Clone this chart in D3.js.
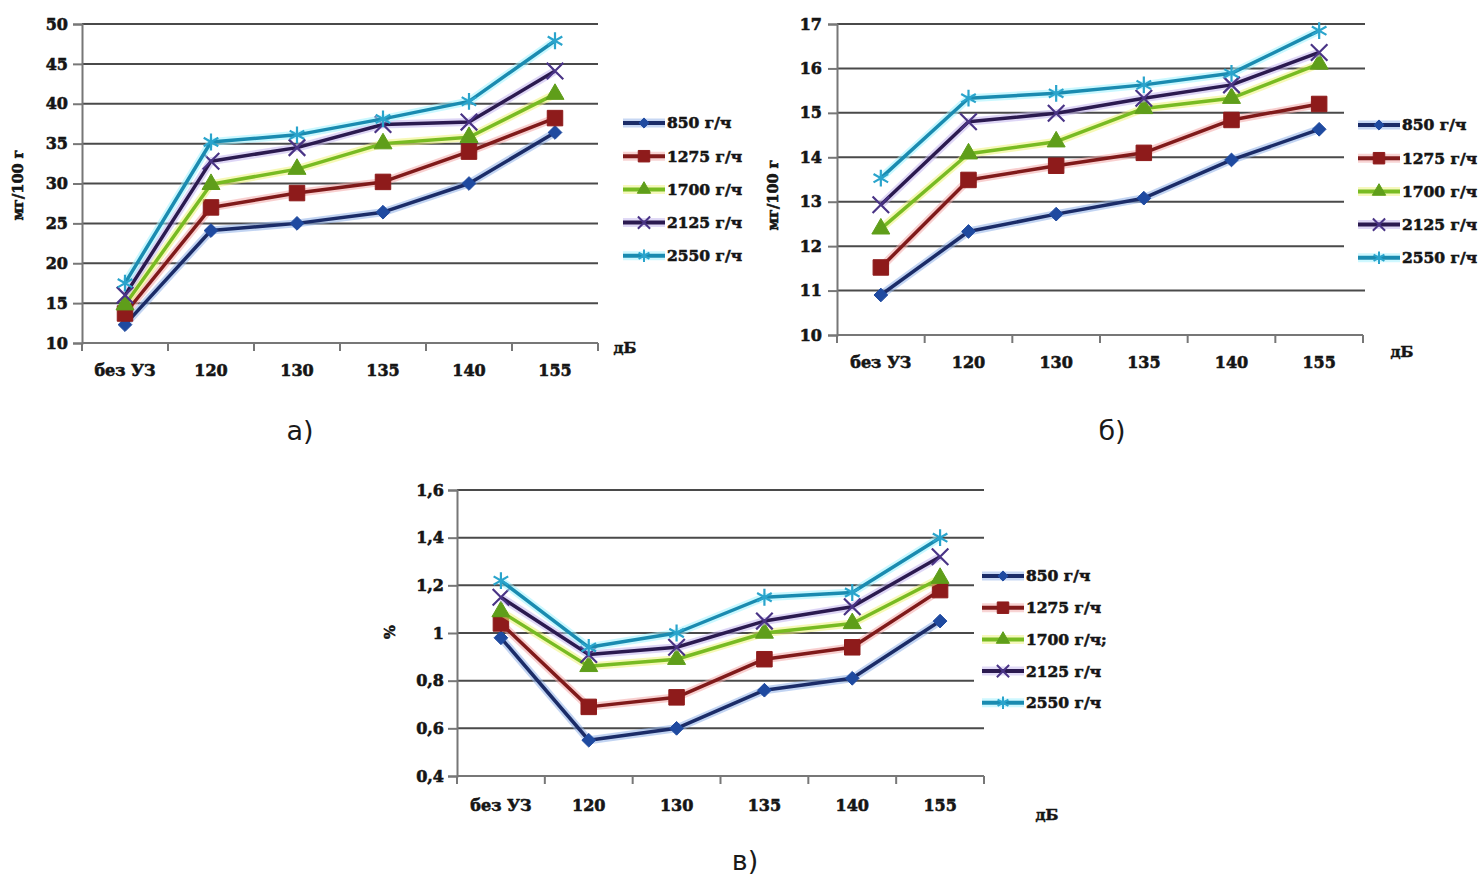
<!DOCTYPE html>
<html>
<head>
<meta charset="utf-8">
<script src="https://cdn.jsdelivr.net/npm/d3@7"></script>
<style>
  body { margin: 0; background: #fff; }
  svg { display: block; }
</style>
</head>
<body>
<svg id="chart"></svg>
<script>
// categories (x axis), shared by all three panels
var categories = ["без УЗ", "120", "130", "135", "140", "155"];
var seriesNames = ["850 г/ч", "1275 г/ч", "1700 г/ч", "2125 г/ч", "2550 г/ч"];
var seriesNamesC = ["850 г/ч", "1275 г/ч", "1700 г/ч;", "2125 г/ч", "2550 г/ч"];

// panel а) mg/100 g
var a850  = [12.3, 24.1, 25.0, 26.4, 30.0, 36.4];
var a1275 = [13.7, 27.0, 28.8, 30.2, 34.0, 38.2];
var a1700 = [14.8, 29.9, 31.8, 35.0, 35.8, 41.2];
var a2125 = [16.0, 32.8, 34.5, 37.4, 37.7, 44.1];
var a2550 = [17.5, 35.2, 36.1, 38.1, 40.3, 47.9];
var yTicksA = [10, 15, 20, 25, 30, 35, 40, 45, 50];

// panel б) mg/100 g
var b850  = [10.9, 12.33, 12.72, 13.08, 13.94, 14.63];
var b1275 = [11.52, 13.49, 13.81, 14.1, 14.84, 15.2];
var b1700 = [12.39, 14.08, 14.35, 15.1, 15.33, 16.1];
var b2125 = [12.93, 14.8, 14.99, 15.33, 15.63, 16.36];
var b2550 = [13.53, 15.33, 15.44, 15.63, 15.89, 16.85];
var yTicksB = [10, 11, 12, 13, 14, 15, 16, 17];

// panel в) %
var c850  = [0.98, 0.55, 0.6, 0.76, 0.81, 1.05];
var c1275 = [1.04, 0.69, 0.73, 0.89, 0.94, 1.18];
var c1700 = [1.09, 0.86, 0.89, 1.0, 1.04, 1.23];
var c2125 = [1.15, 0.91, 0.94, 1.05, 1.11, 1.32];
var c2550 = [1.22, 0.94, 1.0, 1.15, 1.17, 1.4];
var yTicksC = [0.4, 0.6, 0.8, 1.0, 1.2, 1.4, 1.6];
var yLabelsC = ["0,4", "0,6", "0,8", "1", "1,2", "1,4", "1,6"];

// series styles: line colour, halo colour, marker
var styles = [
  { line: "#1b2c68", halo: "#8fb0e8", fill: "#1f4aa0", sym: d3.symbolDiamond2 || d3.symbolDiamond, size: 120, stroke: false },
  { line: "#801a1a", halo: "#f2a8a8", fill: "#8e1b1b", sym: d3.symbolSquare, size: 240, stroke: false },
  { line: "#78bb22", halo: "#eef27a", fill: "#5f9e1a", sym: d3.symbolTriangle, size: 140, stroke: false },
  { line: "#2b1a50", halo: "#c2b4ee", fill: "#4a3486", sym: d3.symbolTimes || d3.symbolCross, size: 180, stroke: true },
  { line: "#1a8bb0", halo: "#9ef2ff", fill: "#2aa4cc", sym: d3.symbolAsterisk || d3.symbolCross, size: 200, stroke: true }
];

var tickFont = "DejaVu Serif, Liberation Serif, serif";

var svg = d3.select("#chart").attr("width", 1483).attr("height", 877);
svg.append("rect").attr("width", 1483).attr("height", 877).attr("fill", "#fff");

// heavy bold text like the scanned original
function boldText(sel, size) {
  sel.attr("font-family", tickFont).attr("font-weight", "bold")
    .attr("font-size", size).attr("fill", "#151515")
    .attr("stroke", "#151515").attr("stroke-width", 0.6);
}

function drawPanel(p) {
  var g = svg.append("g");

  var x = d3.scaleBand().domain(categories).range([p.left, p.right]);
  var y = d3.scaleLinear().domain(p.domain).range([p.bottom, p.top]);

  // horizontal grid lines
  g.selectAll(".grid")
    .data(p.ticks.slice(1))
    .join("line")
      .attr("x1", p.left).attr("x2", p.gridRight)
      .attr("y1", function(d) { return y(d); })
      .attr("y2", function(d) { return y(d); })
      .attr("stroke", "#4a4a4a").attr("stroke-width", 2);

  // y axis
  var yAxis = g.append("g")
    .attr("transform", "translate(" + p.left + ",0)")
    .call(d3.axisLeft(y).tickValues(p.ticks).tickSize(9).tickPadding(p.pad)
      .tickFormat(function(d, i) { return p.labels ? p.labels[i] : d; }));
  yAxis.select(".domain").attr("stroke", "#777").attr("stroke-width", 2);
  yAxis.selectAll(".tick line").attr("stroke", "#777").attr("stroke-width", 2);
  boldText(yAxis.selectAll("text"), 16);

  // x axis: labels at band centres, ticks at band edges
  var xAxis = g.append("g")
    .attr("transform", "translate(0," + p.bottom + ")")
    .call(d3.axisBottom(x).tickSize(0).tickPadding(p.xpad));
  xAxis.select(".domain").remove();
  boldText(xAxis.selectAll("text"), 16);

  g.append("line")
    .attr("x1", p.left).attr("x2", p.right)
    .attr("y1", p.bottom).attr("y2", p.bottom)
    .attr("stroke", "#777").attr("stroke-width", 2);

  var edges = categories.map(function(c) { return x(c); }).concat([p.right]);
  g.selectAll(".xt")
    .data(edges)
    .join("line")
      .attr("x1", function(d) { return d; }).attr("x2", function(d) { return d; })
      .attr("y1", p.bottom).attr("y2", p.bottom + 8)
      .attr("stroke", "#777").attr("stroke-width", 2);

  // white legend box covers grid lines
  if (p.mask) {
    g.append("rect")
      .attr("x", p.mask[0]).attr("y", p.mask[1])
      .attr("width", p.mask[2]).attr("height", p.mask[3])
      .attr("fill", "#fff");
  }

  var line = d3.line()
    .x(function(d, i) { return x(categories[i]) + x.bandwidth() / 2; })
    .y(function(d) { return y(d); });

  p.series.forEach(function(vals, k) {
    var s = styles[k];
    g.append("path").attr("d", line(vals))
      .attr("fill", "none").attr("stroke", s.halo)
      .attr("stroke-width", 8).attr("stroke-opacity", 0.55)
      .attr("stroke-linejoin", "round");
    g.append("path").attr("d", line(vals))
      .attr("fill", "none").attr("stroke", s.line)
      .attr("stroke-width", 3.5).attr("stroke-linejoin", "round");

    var sym = d3.symbol().type(s.sym).size(s.size);
    g.selectAll(".m" + k)
      .data(vals)
      .join("path")
        .attr("transform", function(d, i) {
          return "translate(" + (x(categories[i]) + x.bandwidth() / 2) + "," + y(d) + ")";
        })
        .attr("d", sym)
        .attr("fill", s.stroke ? "none" : s.fill)
        .attr("stroke", s.fill)
        .attr("stroke-width", s.stroke ? 2.2 : 1);
  });

  // legend
  var leg = g.selectAll(".leg")
    .data(p.names)
    .join("g")
      .attr("transform", function(d, i) {
        return "translate(" + p.legX + "," + (p.legY + i * p.legStep) + ")";
      });
  leg.append("line")
    .attr("x1", 0).attr("x2", 42)
    .attr("stroke", function(d, i) { return styles[i].halo; })
    .attr("stroke-width", 9).attr("stroke-opacity", 0.5);
  leg.append("line")
    .attr("x1", 0).attr("x2", 42)
    .attr("stroke", function(d, i) { return styles[i].line; })
    .attr("stroke-width", 4);
  leg.append("path")
    .attr("transform", "translate(21,0)")
    .attr("d", function(d, i) {
      return d3.symbol().type(styles[i].sym).size(styles[i].size * 0.55)();
    })
    .attr("fill", function(d, i) { return styles[i].stroke ? "none" : styles[i].fill; })
    .attr("stroke", function(d, i) { return styles[i].fill; })
    .attr("stroke-width", function(d, i) { return styles[i].stroke ? 2 : 1; });
  boldText(leg.append("text")
    .attr("x", 44).attr("dy", "0.35em")
    .text(function(d) { return d; }), 15.5);

  // axis titles
  boldText(g.append("text")
    .attr("transform", "translate(" + p.yLabX + "," + p.yLabY + ") rotate(-90)")
    .attr("text-anchor", "middle").attr("dy", "0.35em")
    .text(p.yLabel), 14.5);
  boldText(g.append("text")
    .attr("x", p.unitX).attr("y", p.unitY)
    .attr("text-anchor", "middle")
    .text("дБ"), 15);

  // caption
  g.append("text")
    .attr("x", p.capX).attr("y", p.capY)
    .attr("text-anchor", "middle")
    .attr("font-family", "DejaVu Sans, Noto Sans, sans-serif")
    .attr("font-size", 27).attr("fill", "#1a1a1a")
    .text(p.caption);
}

drawPanel({
  left: 82, right: 598, top: 24, bottom: 343, gridRight: 598,
  domain: [10, 50], ticks: yTicksA, pad: 5, xpad: 22,
  series: [a850, a1275, a1700, a2125, a2550], names: seriesNames,
  legX: 623, legY: 123, legStep: 33.2,
  yLabel: "мг/100 г", yLabX: 18, yLabY: 185,
  unitX: 625, unitY: 353,
  caption: "а)", capX: 300, capY: 440
});

drawPanel({
  left: 837, right: 1363, top: 24, bottom: 335, gridRight: 1365,
  domain: [10, 17], ticks: yTicksB, pad: 6, xpad: 22,
  series: [b850, b1275, b1700, b2125, b2550], names: seriesNames,
  legX: 1358, legY: 125, legStep: 33.2,
  mask: [1344, 100, 139, 170],
  yLabel: "мг/100 г", yLabX: 773, yLabY: 195,
  unitX: 1402, unitY: 357,
  caption: "б)", capX: 1112, capY: 440
});

drawPanel({
  left: 457, right: 984, top: 490, bottom: 776, gridRight: 984,
  domain: [0.4, 1.6], ticks: yTicksC, labels: yLabelsC, pad: 4, xpad: 24,
  series: [c850, c1275, c1700, c2125, c2550], names: seriesNamesC,
  legX: 982, legY: 576, legStep: 31.7,
  mask: [974, 560, 200, 155],
  yLabel: "%", yLabX: 390, yLabY: 632,
  unitX: 1047, unitY: 820,
  caption: "в)", capX: 745, capY: 870
});
</script>
</body>
</html>
